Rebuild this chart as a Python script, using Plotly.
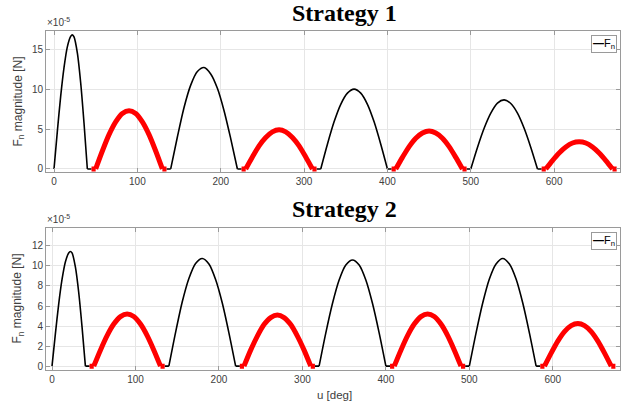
import plotly.graph_objects as go

# Orbit argument samples [deg] along each arc
u_black_1 = [0, 4, 8, 12, 16, 20, 22, 24, 28, 32, 36, 40]
u_black_2 = [140, 148, 156, 164, 172, 180, 188, 196, 204, 212, 220]
u_black_3 = [320, 328, 336, 344, 352, 360, 368, 376, 384, 392, 400]
u_black_4 = [500, 508, 516, 524, 532, 540, 548, 556, 564, 572, 580]
u_red_1 = [50, 58, 66, 74, 82, 90, 98, 106, 114, 122, 130]
u_red_2 = [230, 238, 246, 254, 262, 270, 278, 286, 294, 302, 310]
u_red_3 = [410, 418, 426, 434, 442, 450, 458, 466, 474, 482, 490]
u_red_4 = [590, 598, 606, 614, 622, 630, 638, 646, 654, 662, 670]

# Short stretches where F_n sits at zero between arcs [deg]
u_black_zero = [(40, 45), (135, 140), (220, 225), (315, 320), (400, 405), (495, 500), (580, 585)]
u_red_zero = [(45, 50), (130, 135), (225, 230), (310, 315), (405, 410), (490, 495),
              (585, 590), (670, 675)]

# Strategy 1: F_n magnitude [1e-5 N]
s1_black_1 = [0, 4.7, 9.1, 12.7, 15.3, 16.6, 16.8, 16.55, 14.55, 10.8, 5.75, 0]
s1_black_2 = [0, 4.0, 7.7, 10.5, 12.2, 12.7, 11.9, 10.1, 7.3, 3.8, 0]
s1_black_3 = [0, 3.1, 5.9, 8.1, 9.5, 10.0, 9.5, 8.1, 5.9, 3.1, 0]
s1_black_4 = [0, 2.7, 5.1, 7.0, 8.25, 8.65, 8.2, 7.0, 5.1, 2.7, 0]
s1_red_1 = [0, 2.25, 4.3, 5.9, 6.95, 7.3, 6.95, 5.9, 4.3, 2.25, 0]
s1_red_2 = [0, 1.5, 2.9, 3.95, 4.65, 4.9, 4.65, 3.95, 2.9, 1.5, 0]
s1_red_3 = [0, 1.45, 2.8, 3.85, 4.5, 4.75, 4.5, 3.85, 2.8, 1.45, 0]
s1_red_4 = [0, 1.05, 2.0, 2.75, 3.25, 3.4, 3.25, 2.75, 2.0, 1.05, 0]

# Strategy 2: F_n magnitude [1e-5 N]
s2_black_1 = [0, 3.2, 6.2, 8.65, 10.4, 11.3, 11.45, 11.3, 9.9, 7.35, 3.9, 0]
s2_black_2 = [0, 3.35, 6.4, 8.75, 10.25, 10.75, 10.2, 8.65, 6.3, 3.3, 0]
s2_black_3 = [0, 3.3, 6.25, 8.6, 10.1, 10.6, 10.1, 8.6, 6.25, 3.3, 0]
s2_black_4 = [0, 3.3, 6.3, 8.7, 10.2, 10.75, 10.2, 8.7, 6.3, 3.3, 0]
s2_red_1 = [0, 1.6, 3.05, 4.2, 4.95, 5.2, 4.95, 4.2, 3.05, 1.6, 0]
s2_red_2 = [0, 1.6, 3.0, 4.15, 4.85, 5.1, 4.85, 4.15, 3.0, 1.6, 0]
s2_red_3 = [0, 1.6, 3.05, 4.2, 4.95, 5.2, 4.95, 4.2, 3.05, 1.6, 0]
s2_red_4 = [0, 1.3, 2.5, 3.45, 4.05, 4.25, 4.05, 3.45, 2.5, 1.3, 0]

x_ticks = [0, 100, 200, 300, 400, 500, 600]
y_ticks_1 = [0, 5, 10, 15]
y_ticks_2 = [0, 2, 4, 6, 8, 10, 12]

W, H = 624, 408


def join(us, vs):
    """Concatenate arc segments with gaps between them."""
    xs, ys = [], []
    for u, v in zip(us, vs):
        xs += list(u) + [None]
        ys += list(v) + [None]
    return xs, ys


def zeros(pairs):
    return join(pairs, [[0, 0] for _ in pairs])


u_black = [u_black_1, u_black_2, u_black_3, u_black_4]
u_red = [u_red_1, u_red_2, u_red_3, u_red_4]
panels = [
    ([s1_black_1, s1_black_2, s1_black_3, s1_black_4],
     [s1_red_1, s1_red_2, s1_red_3, s1_red_4], "x", "y"),
    ([s2_black_1, s2_black_2, s2_black_3, s2_black_4],
     [s2_red_1, s2_red_2, s2_red_3, s2_red_4], "x2", "y2"),
]

BLACK_W, RED_W = 1.6, 5

fig = go.Figure()
for black, red, xa, ya in panels:
    bx, by = join(u_black, black)
    rx, ry = join(u_red, red)
    bzx, bzy = zeros(u_black_zero)
    rzx, rzy = zeros(u_red_zero)
    fig.add_trace(go.Scatter(x=bx, y=by, mode="lines", xaxis=xa, yaxis=ya,
                             line=dict(color="black", width=BLACK_W, shape="spline", smoothing=0.8),
                             showlegend=False, name="F_n"))
    fig.add_trace(go.Scatter(x=bzx, y=bzy, mode="lines", xaxis=xa, yaxis=ya,
                             line=dict(color="black", width=BLACK_W), showlegend=False))
    fig.add_trace(go.Scatter(x=rx, y=ry, mode="lines", xaxis=xa, yaxis=ya,
                             line=dict(color="#ff0000", width=RED_W, shape="spline", smoothing=0.8),
                             showlegend=False))
    fig.add_trace(go.Scatter(x=rzx, y=rzy, mode="lines", xaxis=xa, yaxis=ya,
                             line=dict(color="#ff0000", width=RED_W), showlegend=False))

axis_line = "#9a9a9a"
grid = "#e6e6e6"
tick_font = dict(family="Liberation Sans, Arial", size=10, color="#404040")


def px_x(p):
    return p / W


def px_y(p):
    return 1 - p / H


common_x = dict(tickvals=x_ticks, showline=True, linecolor=axis_line, linewidth=1,
                mirror="ticks", ticks="inside", ticklen=4, tickcolor=axis_line,
                showgrid=True, gridcolor=grid, zeroline=False, tickfont=tick_font,
                domain=[px_x(46), px_x(620)])
common_y = dict(showline=True, linecolor=axis_line, linewidth=1,
                mirror="ticks", ticks="inside", ticklen=4, tickcolor=axis_line,
                showgrid=True, gridcolor=grid, zeroline=False, tickfont=tick_font)

fig.update_layout(
    width=W, height=H, margin=dict(l=0, r=0, t=0, b=0),
    paper_bgcolor="white", plot_bgcolor="white",
    xaxis=dict(common_x, range=[-9.6, 679], anchor="y"),
    yaxis=dict(common_y, range=[-0.4, 17.3], tickvals=y_ticks_1,
               domain=[px_y(173), px_y(31)], anchor="x"),
    xaxis2=dict(common_x, range=[-7.2, 680.5], anchor="y2"),
    yaxis2=dict(common_y, range=[-0.4, 13.8], tickvals=y_ticks_2,
                domain=[px_y(372), px_y(229)], anchor="x2"),
)

label_font = dict(family="Liberation Sans, Arial", size=12, color="#404040")
annotations = []
for title, ty, top, mid in [("Strategy 1", 13, 31, 102), ("Strategy 2", 210, 229, 300)]:
    annotations.append(dict(text="<b>%s</b>" % title, x=px_x(344), y=px_y(ty),
                            xref="paper", yref="paper", xanchor="center", yanchor="middle",
                            showarrow=False,
                            font=dict(family="Liberation Serif, Times New Roman", size=24,
                                      color="black")))
    annotations.append(dict(text="F<sub>n</sub> magnitude [N]", x=px_x(18), y=px_y(mid),
                            xref="paper", yref="paper", xanchor="center", yanchor="middle",
                            textangle=-90, showarrow=False, font=label_font))
    annotations.append(dict(text="×10<sup>-5</sup>", x=px_x(45), y=px_y(top - 1),
                            xref="paper", yref="paper", xanchor="left", yanchor="bottom",
                            showarrow=False,
                            font=dict(family="Liberation Sans, Arial", size=10, color="#404040")))
    annotations.append(dict(text="<b>\u2014</b>F<sub>n</sub>", x=px_x(617), y=px_y(top + 4),
                            xref="paper", yref="paper", xanchor="right", yanchor="top",
                            showarrow=False, bgcolor="white", bordercolor="#9a9a9a",
                            borderwidth=1, borderpad=1,
                            font=dict(family="Liberation Sans, Arial", size=11, color="black")))
annotations.append(dict(text="u [deg]", x=px_x(334), y=px_y(397), xref="paper", yref="paper",
                        xanchor="center", yanchor="middle", showarrow=False,
                        font=dict(family="Liberation Sans, Arial", size=11.5, color="#404040")))
fig.update_layout(annotations=annotations)

fig.write_html("out.html")
